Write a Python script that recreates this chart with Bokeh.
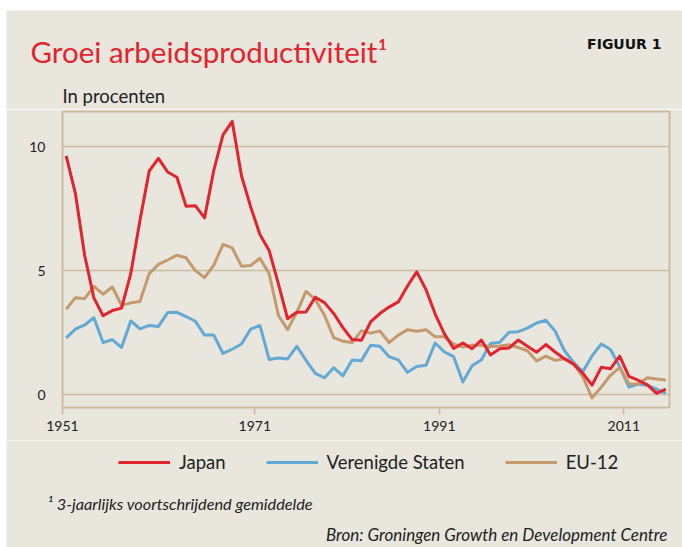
from bokeh.plotting import figure
from bokeh.layouts import column
from bokeh.models import Range1d, FixedTicker, Label, Legend, LegendItem
from bokeh.embed import file_html
from bokeh.resources import INLINE

# ---- data ----
years = list(range(1951, 2017))
japan = [9.63, 8.11, 5.62, 3.90, 3.18, 3.39, 3.49, 4.88, 7.03, 9.02,
         9.53, 8.98, 8.77, 7.60, 7.62, 7.13, 9.05, 10.48, 11.02, 8.83,
         7.57, 6.46, 5.81, 4.48, 3.06, 3.32, 3.33, 3.93, 3.71, 3.27,
         2.70, 2.22, 2.19, 2.93, 3.27, 3.53, 3.74, 4.38, 4.95, 4.24,
         3.25, 2.45, 1.86, 2.08, 1.85, 2.20, 1.60, 1.85, 1.88, 2.20,
         1.95, 1.71, 2.02, 1.72, 1.45, 1.23, 0.86, 0.38, 1.10, 1.04,
         1.55, 0.74, 0.58, 0.39, 0.05, 0.22]
verenigde_staten = [2.29, 2.64, 2.81, 3.10, 2.10, 2.22, 1.90, 2.97, 2.65, 2.79,
                    2.75, 3.31, 3.32, 3.15, 2.96, 2.40, 2.40, 1.66, 1.83, 2.04,
                    2.64, 2.79, 1.42, 1.48, 1.44, 1.95, 1.38, 0.86, 0.68, 1.08,
                    0.76, 1.40, 1.37, 1.99, 1.95, 1.53, 1.40, 0.90, 1.13, 1.18,
                    2.08, 1.72, 1.53, 0.51, 1.16, 1.40, 2.06, 2.11, 2.52, 2.54,
                    2.68, 2.89, 3.00, 2.56, 1.78, 1.30, 0.92, 1.56, 2.04, 1.82,
                    1.13, 0.30, 0.42, 0.38, 0.22, 0.05]
eu12 = [3.45, 3.91, 3.87, 4.37, 4.05, 4.34, 3.60, 3.70, 3.76, 4.88,
        5.25, 5.43, 5.62, 5.52, 5.00, 4.72, 5.22, 6.06, 5.92, 5.18,
        5.21, 5.50, 4.88, 3.20, 2.62, 3.32, 4.16, 3.84, 3.20, 2.30,
        2.15, 2.10, 2.57, 2.48, 2.57, 2.10, 2.40, 2.62, 2.56, 2.62,
        2.33, 2.33, 2.03, 1.92, 1.99, 1.99, 1.94, 1.96, 2.01, 1.90,
        1.77, 1.36, 1.55, 1.38, 1.45, 1.25, 0.71, -0.13, 0.30, 0.78,
        1.09, 0.44, 0.43, 0.68, 0.63, 0.59]

x_tick_pos = [1950.6, 1971.45, 1991.45, 2011.45]
x_tick_labels = ["1951", "1971", "1991", "2011"]
y_ticks = [0, 5, 10]

series_names = ["Japan", "Verenigde Staten", "EU-12"]
series_values = [japan, verenigde_staten, eu12]
series_colors = ["#E3232E", "#62A9D5", "#C49A6C"]

title_text = "Groei arbeidsproductiviteit\u00b9"
figure_tag = "FIGUUR 1"
unit_text = "In procenten"
footnote_text = "\u00b9 3-jaarlijks voortschrijdend gemiddelde"
source_text = "Bron: Groningen Growth en Development Centre"

BG = "#E8E6DD"
TAN = "#CBBC9F"
INK = "#222222"
FONT = "Lato"
W = 676


def blank(height):
    f = figure(width=W, height=height, output_backend="svg", toolbar_location=None,
               title=None, x_axis_type=None, y_axis_type=None,
               x_range=Range1d(0, 1), y_range=Range1d(0, 1),
               min_border=0, background_fill_color=BG, border_fill_color=BG,
               outline_line_color=None, frame_align=False)
    f.grid.visible = False
    return f


# ---------- header ----------
head = blank(99)
head.add_layout(Label(x=24, y=58, x_units="screen", y_units="screen",
                      text=title_text, text_font=FONT, text_font_size="29.5px",
                      text_color="#E3232E", text_baseline="alphabetic"))
head.add_layout(Label(x=655, y=66, x_units="screen", y_units="screen",
                      text=figure_tag, text_font="DejaVu Sans", text_font_style="bold",
                      text_font_size="14px", text_color="#111111",
                      text_align="right", text_baseline="alphabetic"))
head.add_layout(Label(x=56, y=14, x_units="screen", y_units="screen",
                      text=unit_text, text_font=FONT, text_font_size="18.5px",
                      text_color=INK, text_baseline="alphabetic"))

# ---------- main chart ----------
p = figure(width=W, height=331, output_backend="svg", toolbar_location=None,
           title=None,
           x_range=Range1d(1950.6, 2016.4), y_range=Range1d(-0.52, 11.42),
           min_border_left=56, min_border_right=13,
           min_border_top=2, min_border_bottom=33,
           background_fill_color=BG, border_fill_color=BG,
           outline_line_color=TAN, outline_line_width=2, frame_align=False)

p.xgrid.visible = False
p.ygrid.ticker = FixedTicker(ticks=y_ticks)
p.ygrid.grid_line_color = TAN
p.ygrid.grid_line_width = 1.6

yax = p.yaxis[0]
yax.ticker = FixedTicker(ticks=y_ticks)
yax.axis_line_color = None
yax.major_tick_line_color = None
yax.major_tick_out = 0
yax.major_tick_in = 0
yax.minor_tick_line_color = None
yax.major_label_standoff = 17
yax.major_label_text_font = FONT
yax.major_label_text_font_size = "14px"
yax.major_label_text_color = INK

xax = p.xaxis[0]
xax.ticker = FixedTicker(ticks=x_tick_pos)
xax.major_label_overrides = {t: l for t, l in zip(x_tick_pos, x_tick_labels)}
xax.axis_line_color = None
xax.major_tick_out = 7
xax.major_tick_in = 0
xax.major_tick_line_color = TAN
xax.major_tick_line_width = 1.6
xax.minor_tick_line_color = None
xax.major_label_standoff = 6
xax.major_label_text_font = FONT
xax.major_label_text_font_size = "14px"
xax.major_label_text_color = INK

renderers = []
for vals, col in zip(series_values, series_colors):
    r = p.line(years, vals, line_color=col, line_width=3, line_join="round")
    renderers.append(r)
renderers[0].level = "overlay"

# ---------- footer (legend + notes) ----------
foot = blank(107)
# legend keys: same series, drawn outside this strip's range, only their legend swatch shows
keys = [foot.line(years, vals, line_color=c, line_width=3)
        for vals, c in zip(series_values, series_colors)]
legend = Legend(items=[LegendItem(label=n, renderers=[r]) for n, r in zip(series_names, keys)],
                location=(112, 73), orientation="horizontal",
                glyph_width=52, glyph_height=24, label_height=24,
                label_standoff=9, padding=0, margin=0, spacing=40,
                border_line_alpha=0, background_fill_alpha=0,
                label_text_font=FONT, label_text_font_size="18.5px",
                label_text_color=INK)
foot.add_layout(legend, "center")
foot.add_layout(Label(x=41, y=44, x_units="screen", y_units="screen",
                      text=footnote_text, text_font=FONT, text_font_style="italic",
                      text_font_size="16.3px", text_color=INK, text_baseline="alphabetic"))
foot.add_layout(Label(x=661, y=13, x_units="screen", y_units="screen",
                      text=source_text, text_font=FONT, text_font_style="italic",
                      text_font_size="17px", text_color=INK,
                      text_align="right", text_baseline="alphabetic"))

layout = column(head, p, foot, spacing=0, margin=(10, 0, 0, 6))
open("out.html", "w").write(file_html(layout, INLINE))
